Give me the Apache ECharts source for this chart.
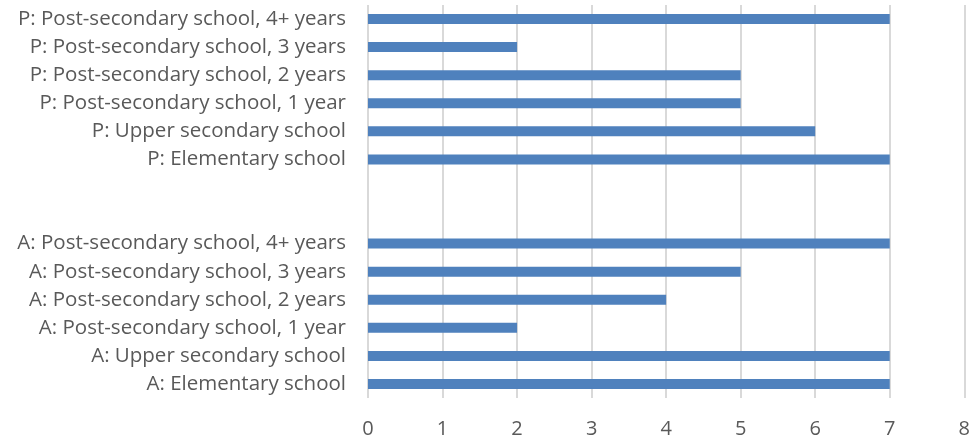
<!DOCTYPE html>
<html>
<head>
<meta charset="utf-8">
<script src="https://cdn.jsdelivr.net/npm/echarts@6/dist/echarts.min.js"></script>
<style>
  html, body { margin: 0; padding: 0; background: #fff; }
  #chart { width: 973px; height: 443px; }
</style>
</head>
<body>
<div id="chart"></div>
<script>
// categories bottom to top, two blank rows between groups
const categories = [
  'A: Elementary school',
  'A: Upper secondary school',
  'A: Post-secondary school, 1 year',
  'A: Post-secondary school, 2 years',
  'A: Post-secondary school, 3 years',
  'A: Post-secondary school, 4+ years',
  '',
  ' ',
  'P: Elementary school',
  'P: Upper secondary school',
  'P: Post-secondary school, 1 year',
  'P: Post-secondary school, 2 years',
  'P: Post-secondary school, 3 years',
  'P: Post-secondary school, 4+ years'
];
const values = [7, 7, 2, 4, 5, 7, null, null, 7, 6, 5, 5, 2, 7];
const xTicks = [0, 1, 2, 3, 4, 5, 6, 7, 8];

const chart = echarts.init(document.getElementById('chart'));

chart.setOption({
  animation: false,
  textStyle: { fontFamily: 'Open Sans, Liberation Sans, sans-serif' },
  grid: { left: 368, right: 4, top: 5, bottom: 45, containLabel: false },
  xAxis: {
    type: 'value',
    min: xTicks[0],
    max: xTicks[xTicks.length - 1],
    interval: 1,
    axisLine: { show: false },
    axisTick: { show: false },
    axisLabel: { color: '#595959', fontSize: 20, margin: 21 },
    splitLine: { lineStyle: { color: '#d9d9d9', width: 2 } }
  },
  yAxis: {
    type: 'category',
    data: categories,
    axisLine: { show: false },
    axisTick: { show: false },
    axisLabel: { color: '#595959', fontSize: 20.5, margin: 22 }
  },
  series: [{
    type: 'bar',
    data: values,
    barWidth: 10,
    itemStyle: { color: '#4f81bd' }
  }]
});
</script>
</body>
</html>
